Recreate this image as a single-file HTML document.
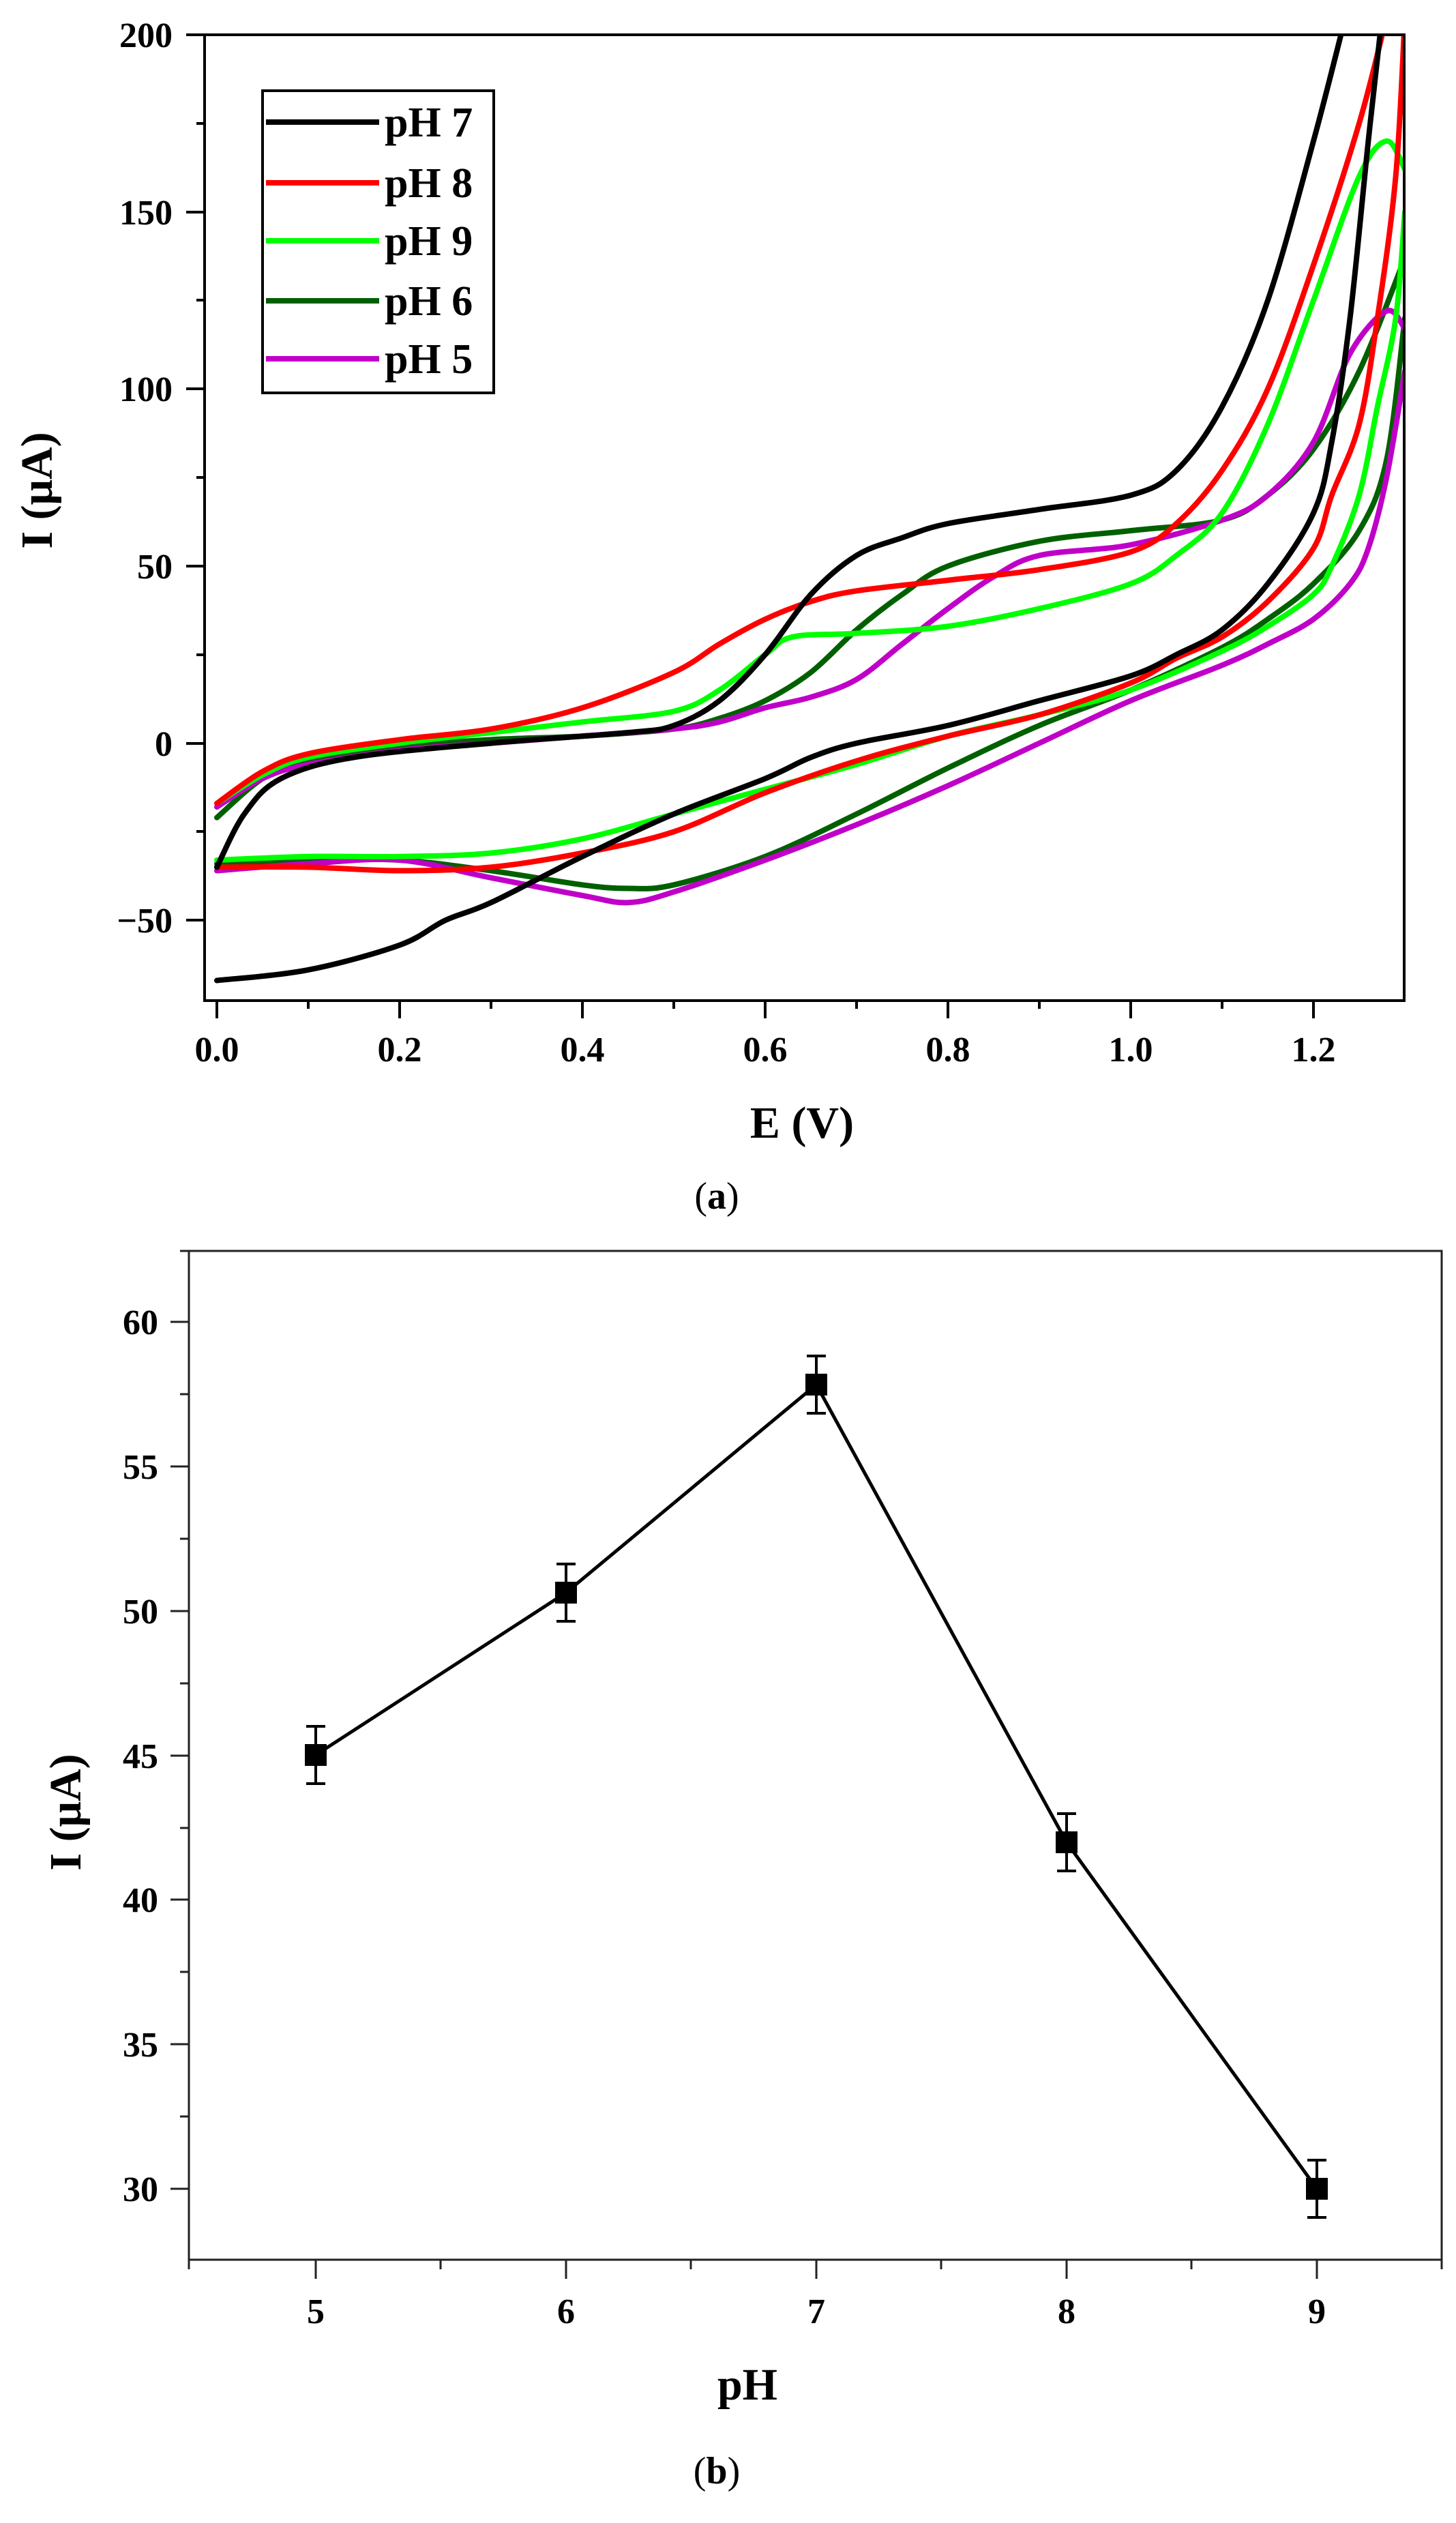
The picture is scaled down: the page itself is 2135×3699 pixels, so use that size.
<!DOCTYPE html>
<html><head><meta charset="utf-8"><style>
html,body{margin:0;padding:0;background:#fff;}
svg{display:block;}
text{font-family:"Liberation Serif","Times New Roman",serif;}
</style></head><body>
<svg width="2135" height="3699" viewBox="0 0 2135 3699" xmlns="http://www.w3.org/2000/svg">
<defs><clipPath id="ca"><rect x="302" y="53" width="1756" height="1412"/></clipPath></defs>
<!-- Chart A -->
<g clip-path="url(#ca)" fill="none" stroke-width="8" stroke-linejoin="round" stroke-linecap="round">
<g transform="translate(318,1089.6) scale(1340,-5.193)">
<path class="sm" vector-effect="non-scaling-stroke" stroke="#006000" d="M0,-21 L0.05,-10 0.1,-5 0.2,-1 0.3,1 0.4,2 0.5,4 0.55,7 0.6,12 0.65,20 0.7,32 0.75,42 0.8,50 0.9,57 1.0,60 1.1,63 1.15,70 1.2,83 1.25,105 1.3,137 M1.3,120 L1.28,80 1.25,60 1.2,45 1.15,35 1.1,27 1.0,15 0.9,5 0.8,-7 0.7,-20 0.6,-32 0.5,-40 0.45,-41 0.4,-40 0.3,-36 0.2,-33 0.1,-33 0,-34"/>
<path class="sm" vector-effect="non-scaling-stroke" stroke="#c000c8" d="M0,-18 L0.05,-10 0.1,-6 0.2,-2 0.3,0 0.4,2 0.5,4 0.55,6 0.6,10 0.65,13 0.7,18 0.75,28 0.8,38 0.85,47 0.9,53 1.0,56 1.1,63 1.15,70 1.2,85 1.24,110 1.28,122 1.3,117 M1.3,105 L1.28,75 1.26,55 1.24,45 1.2,35 1.15,28 1.1,22 1.0,12 0.9,0 0.8,-12 0.7,-23 0.6,-33 0.5,-42 0.45,-45 0.4,-43 0.3,-38 0.2,-33 0.1,-34 0,-36"/>
<path class="sm" vector-effect="non-scaling-stroke" stroke="#00ff00" d="M0,-17 L0.05,-9 0.1,-4 0.2,0 0.3,3 0.4,6 0.5,9 0.55,15 0.6,25 0.63,30 0.7,31 0.8,33 0.9,38 1.0,45 1.05,53 1.1,65 1.15,90 1.2,125 1.25,160 1.28,170 1.3,162 M1.3,150 L1.29,120 1.27,95 1.25,70 1.22,50 1.2,42 1.15,33 1.1,26 1.0,15 0.9,8 0.8,2 0.7,-6 0.6,-13 0.5,-20 0.4,-27 0.3,-31 0.2,-32 0.1,-32 0,-33"/>
<path class="sm" vector-effect="non-scaling-stroke" stroke="#ff0000" d="M0,-17 L0.05,-8 0.1,-3 0.2,1 0.3,4 0.4,10 0.5,20 0.55,28 0.6,35 0.65,40 0.7,43 0.8,46 0.9,49 1.0,54 1.05,62 1.1,77 1.15,100 1.2,135 1.25,175 1.28,205 M1.3,205 L1.29,160 1.27,120 1.25,90 1.22,70 1.2,55 1.15,40 1.1,30 1.05,24 1.0,17 0.9,8 0.8,2 0.7,-5 0.6,-14 0.5,-25 0.4,-31 0.3,-35 0.2,-36 0.1,-35 0,-35"/>
<path class="sm" vector-effect="non-scaling-stroke" stroke="#000" d="M0,-35 L0.03,-20 0.07,-10 0.15,-4 0.3,0 0.45,3 0.5,5 0.55,12 0.6,25 0.65,42 0.7,53 0.75,58 0.8,62 0.9,66 1.0,70 1.05,77 1.1,95 1.15,125 1.2,170 1.235,205 M1.275,205 L1.26,170 1.24,120 1.22,85 1.2,65 1.15,45 1.1,32 1.05,25 1.0,19 0.9,12 0.8,5 0.7,0 0.65,-4 0.6,-10 0.5,-20 0.4,-32 0.3,-45 0.25,-50 0.2,-57 0.1,-64 0,-67"/>
</g></g>
<rect x="300" y="51" width="1759" height="1416" fill="none" stroke="#000" stroke-width="4"/>
<g stroke="#000" stroke-width="4">
<line x1="273" y1="51" x2="300" y2="51"/><line x1="273" y1="311" x2="300" y2="311"/><line x1="273" y1="570" x2="300" y2="570"/><line x1="273" y1="830" x2="300" y2="830"/><line x1="273" y1="1090" x2="300" y2="1090"/><line x1="273" y1="1349" x2="300" y2="1349"/>
<line x1="288" y1="181" x2="300" y2="181"/><line x1="288" y1="440" x2="300" y2="440"/><line x1="288" y1="700" x2="300" y2="700"/><line x1="288" y1="960" x2="300" y2="960"/><line x1="288" y1="1219" x2="300" y2="1219"/>
<line x1="318" y1="1467" x2="318" y2="1493"/><line x1="586" y1="1467" x2="586" y2="1493"/><line x1="854" y1="1467" x2="854" y2="1493"/><line x1="1122" y1="1467" x2="1122" y2="1493"/><line x1="1390" y1="1467" x2="1390" y2="1493"/><line x1="1658" y1="1467" x2="1658" y2="1493"/><line x1="1926" y1="1467" x2="1926" y2="1493"/>
<line x1="452" y1="1467" x2="452" y2="1479"/><line x1="720" y1="1467" x2="720" y2="1479"/><line x1="988" y1="1467" x2="988" y2="1479"/><line x1="1256" y1="1467" x2="1256" y2="1479"/><line x1="1524" y1="1467" x2="1524" y2="1479"/><line x1="1792" y1="1467" x2="1792" y2="1479"/>
</g>
<g font-size="52" font-weight="bold" text-anchor="end">
<text x="253" y="69">200</text><text x="253" y="329">150</text><text x="253" y="588">100</text><text x="253" y="848">50</text><text x="253" y="1108">0</text><text x="253" y="1367">−50</text>
</g>
<g font-size="52" font-weight="bold" text-anchor="middle">
<text x="318" y="1556">0.0</text><text x="586" y="1556">0.2</text><text x="854" y="1556">0.4</text><text x="1122" y="1556">0.6</text><text x="1390" y="1556">0.8</text><text x="1658" y="1556">1.0</text><text x="1926" y="1556">1.2</text>
</g>
<text x="1176" y="1668" font-size="66" font-weight="bold" text-anchor="middle">E (V)</text>
<text transform="translate(76,719) rotate(-90)" font-size="66" font-weight="bold" text-anchor="middle">I (μA)</text>
<rect x="385" y="133" width="339" height="443" fill="#fff" stroke="#000" stroke-width="4"/>
<g stroke-width="8">
<line x1="390" y1="179" x2="556" y2="179" stroke="#000"/>
<line x1="390" y1="268" x2="556" y2="268" stroke="#ff0000"/>
<line x1="390" y1="353" x2="556" y2="353" stroke="#00ff00"/>
<line x1="390" y1="441" x2="556" y2="441" stroke="#006000"/>
<line x1="390" y1="526" x2="556" y2="526" stroke="#c000c8"/>
</g>
<g font-size="62" font-weight="bold">
<text x="564" y="200">pH 7</text><text x="564" y="289">pH 8</text><text x="564" y="374">pH 9</text><text x="564" y="462">pH 6</text><text x="564" y="547">pH 5</text>
</g>
<text x="1051" y="1772" font-size="56" text-anchor="middle">(<tspan font-weight="bold">a</tspan>)</text>

<!-- Chart B -->
<rect x="277" y="1834" width="1837" height="1479" fill="none" stroke="#222" stroke-width="3"/>
<g stroke="#222" stroke-width="3">
<line x1="250" y1="1938" x2="277" y2="1938"/><line x1="250" y1="2150" x2="277" y2="2150"/><line x1="250" y1="2362" x2="277" y2="2362"/><line x1="250" y1="2574" x2="277" y2="2574"/><line x1="250" y1="2785" x2="277" y2="2785"/><line x1="250" y1="2997" x2="277" y2="2997"/><line x1="250" y1="3209" x2="277" y2="3209"/>
<line x1="264" y1="1834" x2="277" y2="1834"/><line x1="264" y1="2044" x2="277" y2="2044"/><line x1="264" y1="2256" x2="277" y2="2256"/><line x1="264" y1="2468" x2="277" y2="2468"/><line x1="264" y1="2680" x2="277" y2="2680"/><line x1="264" y1="2891" x2="277" y2="2891"/><line x1="264" y1="3103" x2="277" y2="3103"/>
<line x1="463" y1="3313" x2="463" y2="3341"/><line x1="830" y1="3313" x2="830" y2="3341"/><line x1="1197" y1="3313" x2="1197" y2="3341"/><line x1="1564" y1="3313" x2="1564" y2="3341"/><line x1="1931" y1="3313" x2="1931" y2="3341"/>
<line x1="277" y1="3313" x2="277" y2="3327"/><line x1="646" y1="3313" x2="646" y2="3327"/><line x1="1013" y1="3313" x2="1013" y2="3327"/><line x1="1380" y1="3313" x2="1380" y2="3327"/><line x1="1747" y1="3313" x2="1747" y2="3327"/><line x1="2114" y1="3313" x2="2114" y2="3327"/>
</g>
<g font-size="52" font-weight="bold" text-anchor="end">
<text x="232" y="1956">60</text><text x="232" y="2168">55</text><text x="232" y="2380">50</text><text x="232" y="2592">45</text><text x="232" y="2803">40</text><text x="232" y="3015">35</text><text x="232" y="3227">30</text>
</g>
<g font-size="52" font-weight="bold" text-anchor="middle">
<text x="463" y="3406">5</text><text x="830" y="3406">6</text><text x="1197" y="3406">7</text><text x="1564" y="3406">8</text><text x="1931" y="3406">9</text>
</g>
<text x="1096" y="3518" font-size="66" font-weight="bold" text-anchor="middle">pH</text>
<text transform="translate(118,2657) rotate(-90)" font-size="66" font-weight="bold" text-anchor="middle">I (μA)</text>
<polyline points="463,2573 830,2335 1197,2030 1564,2701 1931,3209" fill="none" stroke="#000" stroke-width="5"/>
<g stroke="#000" stroke-width="4">
<line x1="463" y1="2531" x2="463" y2="2615"/><line x1="449" y1="2531" x2="477" y2="2531"/><line x1="449" y1="2615" x2="477" y2="2615"/>
<line x1="830" y1="2293" x2="830" y2="2377"/><line x1="816" y1="2293" x2="844" y2="2293"/><line x1="816" y1="2377" x2="844" y2="2377"/>
<line x1="1197" y1="1988" x2="1197" y2="2072"/><line x1="1183" y1="1988" x2="1211" y2="1988"/><line x1="1183" y1="2072" x2="1211" y2="2072"/>
<line x1="1564" y1="2659" x2="1564" y2="2743"/><line x1="1550" y1="2659" x2="1578" y2="2659"/><line x1="1550" y1="2743" x2="1578" y2="2743"/>
<line x1="1931" y1="3167" x2="1931" y2="3251"/><line x1="1917" y1="3167" x2="1945" y2="3167"/><line x1="1917" y1="3251" x2="1945" y2="3251"/>
</g>
<g fill="#000">
<rect x="447" y="2557" width="32" height="32"/><rect x="814" y="2319" width="32" height="32"/><rect x="1181" y="2014" width="32" height="32"/><rect x="1548" y="2685" width="32" height="32"/><rect x="1915" y="3193" width="32" height="32"/>
</g>
<text x="1051" y="3641" font-size="56" text-anchor="middle">(<tspan font-weight="bold">b</tspan>)</text>
</svg>
<script>
(function(){
var ps=document.querySelectorAll('path.sm');
for(var k=0;k<ps.length;k++){
 var d=ps[k].getAttribute('d');
 var segs=d.split('M').filter(function(s){return s.trim().length;});
 var out='';
 segs.forEach(function(s){
  var nums=s.replace(/L/g,' ').trim().split(/\s+/).map(function(p){var a=p.split(',');return [parseFloat(a[0]),parseFloat(a[1])];});
  // Catmull-Rom in pixel space for shape, using scale factors
  var sx=1340,sy=5.193;
  var P=nums.map(function(p){return [p[0]*sx,p[1]*sy];});
  out+='M'+nums[0][0]+','+nums[0][1];
  for(var i=0;i<P.length-1;i++){
   var p0=P[i>0?i-1:i],p1=P[i],p2=P[i+1],p3=P[i+2<P.length?i+2:i+1];
   var c1=[p1[0]+(p2[0]-p0[0])/6,p1[1]+(p2[1]-p0[1])/6];
   var c2=[p2[0]-(p3[0]-p1[0])/6,p2[1]-(p3[1]-p1[1])/6];
   out+=' C'+(c1[0]/sx)+','+(c1[1]/sy)+' '+(c2[0]/sx)+','+(c2[1]/sy)+' '+(p2[0]/sx)+','+(p2[1]/sy);
  }
 });
 ps[k].setAttribute('d',out);
}
})();
</script>
</body></html>
